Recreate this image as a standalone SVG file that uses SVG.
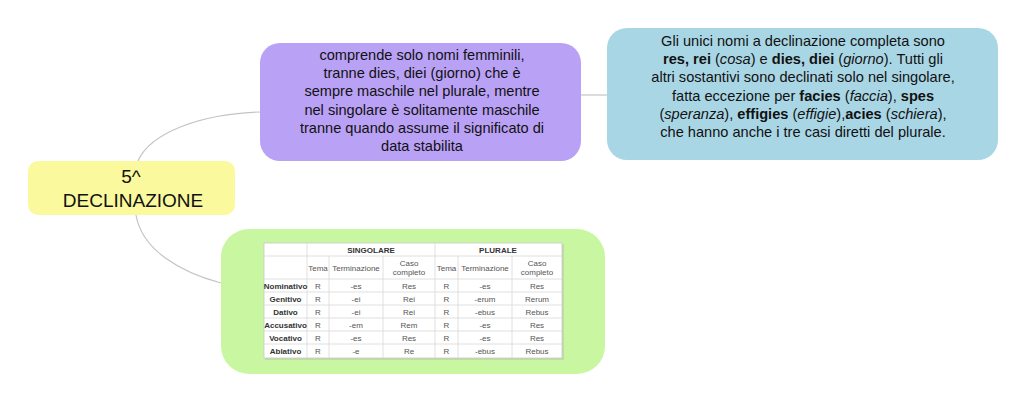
<svg xmlns="http://www.w3.org/2000/svg" width="1024" height="402" viewBox="0 0 1024 402">
<style>
.t{font-family:"Liberation Sans",Arial,sans-serif;fill:#111;text-anchor:middle}
.n{font-size:14.6px}
.tb{font-family:"Liberation Sans",Arial,sans-serif;font-size:8px;fill:#555;text-anchor:middle}
.th{font-weight:bold;fill:#333}
.conn{fill:none;stroke:#c4c4c4;stroke-width:1.2}
.grid{stroke:#d8d8d8;stroke-width:0.8}
</style>
<rect width="1024" height="402" fill="#fff"/>
<g id="connectors">
<path class="conn" d="M138,161 C150,133 200,114 260,112"/>
<path class="conn" d="M136,215 C142,250 180,272 221,283"/>
<path class="conn" d="M581,95 L607,95"/>
</g>
<g id="root">
<rect x="28" y="161" width="207" height="54" rx="10" fill="#fbf99d"/>
<text class="t" x="131" y="183" font-size="19">5^</text>
<text class="t" x="133" y="206.5" font-size="19">DECLINAZIONE</text>
</g>
<g id="purple">
<rect x="260" y="43" width="321" height="118" rx="20" fill="#b9a1f6"/>
<g class="t n">
<text x="422" y="60">comprende solo nomi femminili,</text>
<text x="422" y="78">tranne dies, diei (giorno) che è</text>
<text x="422" y="96">sempre maschile nel plurale, mentre</text>
<text x="422" y="115">nel singolare è solitamente maschile</text>
<text x="422" y="133">tranne quando assume il significato di</text>
<text x="422" y="151">data stabilita</text>
</g>
</g>
<g id="blue">
<rect x="607" y="28" width="391" height="132" rx="20" fill="#a9d6e5"/>
<g class="t n">
<text x="803" y="46">Gli unici nomi a declinazione completa sono</text>
<text x="803" y="64"><tspan font-weight="bold">res, rei</tspan> (<tspan font-style="italic">cosa</tspan>) e <tspan font-weight="bold">dies, diei</tspan> (<tspan font-style="italic">giorno</tspan>). Tutti gli</text>
<text x="803" y="82">altri sostantivi sono declinati solo nel singolare,</text>
<text x="803" y="101">fatta eccezione per <tspan font-weight="bold">facies</tspan> (<tspan font-style="italic">faccia</tspan>), <tspan font-weight="bold">spes</tspan></text>
<text x="803" y="119">(<tspan font-style="italic">speranza</tspan>), <tspan font-weight="bold">effigies</tspan> (<tspan font-style="italic">effigie</tspan>),<tspan font-weight="bold">acies</tspan> (<tspan font-style="italic">schiera</tspan>),</text>
<text x="803" y="137">che hanno anche i tre casi diretti del plurale.</text>
</g>
</g>
<g id="table-node">
<rect x="221" y="229" width="384" height="145" rx="28" fill="#c9f7a1"/>
<rect x="265" y="244" width="299" height="116" fill="#b9c9a8" opacity="0.6"/>
<rect x="264" y="243" width="298" height="115" fill="#fff" stroke="#c8c8c8" stroke-width="0.8"/>
<g class="grid">
<line x1="307" y1="243" x2="307" y2="358"/>
<line x1="329" y1="256" x2="329" y2="358"/>
<line x1="383" y1="256" x2="383" y2="358"/>
<line x1="435" y1="243" x2="435" y2="358"/>
<line x1="458" y1="256" x2="458" y2="358"/>
<line x1="512" y1="256" x2="512" y2="358"/>
<line x1="264" y1="256" x2="562" y2="256"/>
<line x1="264" y1="279" x2="562" y2="279"/>
<line x1="264" y1="292" x2="562" y2="292"/>
<line x1="264" y1="305" x2="562" y2="305"/>
<line x1="264" y1="318" x2="562" y2="318"/>
<line x1="264" y1="331" x2="562" y2="331"/>
<line x1="264" y1="344" x2="562" y2="344"/>
</g>
<g class="tb">
<text class="th" x="371" y="253">SINGOLARE</text>
<text class="th" x="498" y="253">PLURALE</text>
<text x="318" y="270.5">Tema</text>
<text x="356" y="270.5">Terminazione</text>
<text x="409" y="266">Caso</text>
<text x="409" y="275">completo</text>
<text x="446.5" y="270.5">Tema</text>
<text x="485" y="270.5">Terminazione</text>
<text x="537" y="266">Caso</text>
<text x="537" y="275">completo</text>
<text class="th" x="285.5" y="288.5">Nominativo</text>
<text x="318" y="288.5">R</text><text x="356" y="288.5">-es</text><text x="409" y="288.5">Res</text>
<text x="446.5" y="288.5">R</text><text x="485" y="288.5">-es</text><text x="537" y="288.5">Res</text>
<text class="th" x="285.5" y="301.5">Genitivo</text>
<text x="318" y="301.5">R</text><text x="356" y="301.5">-ei</text><text x="409" y="301.5">Rei</text>
<text x="446.5" y="301.5">R</text><text x="485" y="301.5">-erum</text><text x="537" y="301.5">Rerum</text>
<text class="th" x="285.5" y="314.5">Dativo</text>
<text x="318" y="314.5">R</text><text x="356" y="314.5">-ei</text><text x="409" y="314.5">Rei</text>
<text x="446.5" y="314.5">R</text><text x="485" y="314.5">-ebus</text><text x="537" y="314.5">Rebus</text>
<text class="th" x="285.5" y="327.5">Accusativo</text>
<text x="318" y="327.5">R</text><text x="356" y="327.5">-em</text><text x="409" y="327.5">Rem</text>
<text x="446.5" y="327.5">R</text><text x="485" y="327.5">-es</text><text x="537" y="327.5">Res</text>
<text class="th" x="285.5" y="340.5">Vocativo</text>
<text x="318" y="340.5">R</text><text x="356" y="340.5">-es</text><text x="409" y="340.5">Res</text>
<text x="446.5" y="340.5">R</text><text x="485" y="340.5">-es</text><text x="537" y="340.5">Res</text>
<text class="th" x="285.5" y="354">Ablativo</text>
<text x="318" y="354">R</text><text x="356" y="354">-e</text><text x="409" y="354">Re</text>
<text x="446.5" y="354">R</text><text x="485" y="354">-ebus</text><text x="537" y="354">Rebus</text>
</g>
</g>
</svg>
